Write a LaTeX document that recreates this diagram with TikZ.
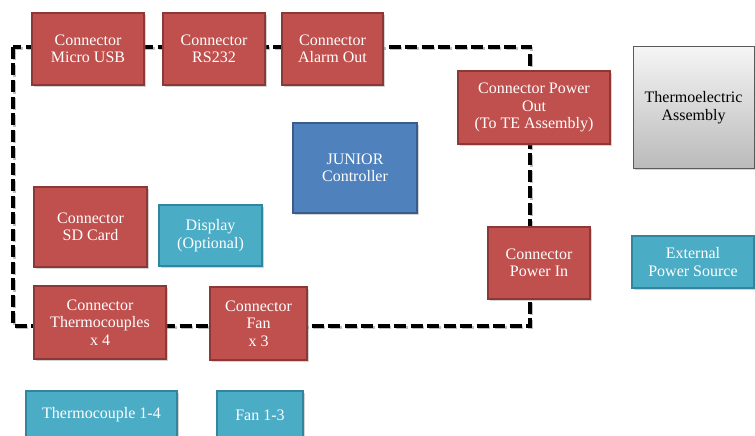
\documentclass[tikz,border=0pt]{standalone}
\usepackage{fontspec}
\setmainfont{Liberation Serif}
\usepackage{tikz}
\usetikzlibrary{shadows,
           positioning}
\definecolor{rouge}{RGB}{192,80,77}
\definecolor{rougefonce}{RGB}{140,56,54}
\definecolor{bleu}{RGB}{79,129,189}
\definecolor{bleufonce}{RGB}{56,93,138}
\definecolor{cyan}{RGB}{75,172,198}
\definecolor{cyanfonce}{RGB}{49,133,156}
\definecolor{grisfonce}{RGB}{90,90,90}
\tikzset{
  bloc/.style={draw, line width=1.5pt, align=center, inner sep=2pt,
    font=\fontsize{16}{17.5}\selectfont, text=white,
    drop shadow={shadow xshift=2pt, shadow yshift=-2pt, opacity=.35}},
  connecteur/.style={bloc, fill=rouge, draw=rougefonce},
  controleur/.style={bloc, fill=bleu, draw=bleufonce},
  externe/.style={bloc, fill=cyan, draw=cyanfonce},
  assemblage/.style={bloc, draw=grisfonce, text=black, line width=1pt,
    top color=white!96!black, bottom color=black!27},
  carte/.style={line width=3.5pt, dash pattern=on 12pt off 4.5pt}
}
\begin{document}
\begin{tikzpicture}[x=1pt,y=-1pt]
\useasboundingbox (0,0) rectangle (755,436);
\clip (0,0) rectangle (755,436);
% contour de la carte
\draw[carte, black!25] (14.5,48.5) rectangle (531.5,327.5);
\draw[carte] (13,47) rectangle (530,326);
% connecteurs du haut
\node[connecteur, minimum width=112, minimum height=72] (usb) at (88,49) {Connector\\Micro USB};
\node[connecteur, minimum width=102, minimum height=72] (rs) at (214,49) {Connector\\RS232};
\node[connecteur, minimum width=101, minimum height=72] (alarme) at (332.5,49) {Connector\\Alarm Out};
% puissance
\node[connecteur, minimum width=152, minimum height=73] (sortie) at (534,107.5) {Connector Power\\Out\\(To TE Assembly)};
\node[assemblage, minimum width=121, minimum height=121] (te) at (693.5,107.5) {Thermoelectric\\Assembly};
\node[connecteur, minimum width=102, minimum height=72] (entree) at (539,263) {Connector\\Power In};
\node[externe, minimum width=122, minimum height=52] (source) at (693,262) {External\\Power Source};
% controleur
\node[controleur, minimum width=124, minimum height=90] (junior) at (355,168) {JUNIOR\\Controller};
% a gauche
\node[connecteur, minimum width=113, minimum height=80] (sd) at (90.5,227) {Connector\\SD Card};
\node[externe, minimum width=103, minimum height=61] (ecran) at (210.5,235.5) {Display\\(Optional)};
\node[connecteur, minimum width=132, minimum height=73] (thermo) at (100,322.5) {Connector\\Thermocouples\\x 4};
\node[connecteur, minimum width=97, minimum height=73] (ventil) at (258.5,323.5) {Connector\\Fan\\x 3};
% capteurs
\node[externe, minimum width=151, minimum height=48] (tc) at (101.5,415) {Thermocouple 1-4};
\node[externe, minimum width=86, minimum height=48] (fan) at (260,415) {Fan 1-3};
\end{tikzpicture}
\end{document}
